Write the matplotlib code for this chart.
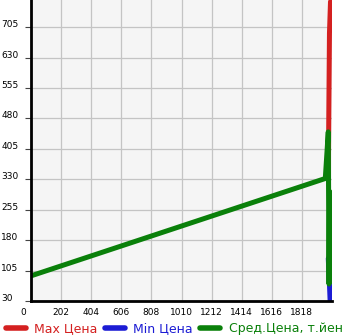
import matplotlib.pyplot as plt
from matplotlib.transforms import ScaledTranslation

# данные
x_max = [1995, 2003, 2010]
max_price = [330, 690, 768]
x_min = [1995, 2003, 2008]
min_price = [135, 70, 25]
x_avg = [0, 1975, 1995, 2000, 2004]
avg_price = [92, 332, 447, 72, 300]

xticks = [0, 202, 404, 606, 808, 1010, 1212, 1414, 1616, 1818]
yticks = [30, 105, 180, 255, 330, 405, 480, 555, 630, 705]

RED = "#d42020"
BLUE = "#1c1cd4"
GREEN = "#0a800a"

fig = plt.figure(figsize=(3.45, 3.35), dpi=100)
ax = fig.add_axes([31 / 345, 1 - 301 / 335, 301 / 345, 301 / 335])
ax.set_facecolor("#f5f5f5")

ax.plot(x_max, max_price, color=RED, lw=3.6, solid_capstyle="round", label="Max Цена")
ax.plot(x_min, min_price, color=BLUE, lw=3.6, solid_capstyle="round", label="Min Цена")
ax.plot(x_avg, avg_price, color=GREEN, lw=3.6, solid_capstyle="round",
        label="Сред.Цена, т.йен")

ax.set_xlim(0, 2020)
ax.set_ylim(30, 772)
ax.set_xticks(xticks)
ax.set_yticks(yticks)
ax.grid(True, color="#c4c4c4", lw=0.9)
ax.set_axisbelow(True)

for s in ["top", "right"]:
    ax.spines[s].set_visible(False)
for s in ["left", "bottom"]:
    ax.spines[s].set_linewidth(2)
    ax.spines[s].set_color("black")

ax.tick_params(axis="y", length=4, width=0.8, labelsize=6.5, pad=17.5, color="#444444")
ax.tick_params(axis="x", length=0, labelsize=6.5, pad=5)
for lab in ax.get_yticklabels():
    lab.set_horizontalalignment("left")
    lab.set_verticalalignment("baseline")
# сдвиг подписи "0" влево
xl = ax.get_xticklabels()
xl[0].set_transform(xl[0].get_transform() + ScaledTranslation(-0.08, 0, fig.dpi_scale_trans))

leg = fig.legend(loc="lower center", bbox_to_anchor=(0.505, -0.035), ncol=3, frameon=False,
                 fontsize=9, handlelength=1.6, handletextpad=0.7, columnspacing=0.55)
for t, c in zip(leg.get_texts(), [RED, BLUE, GREEN]):
    t.set_color(c)
for h in leg.get_lines():
    h.set_linewidth(4)

fig.savefig("out.png", dpi=100)
